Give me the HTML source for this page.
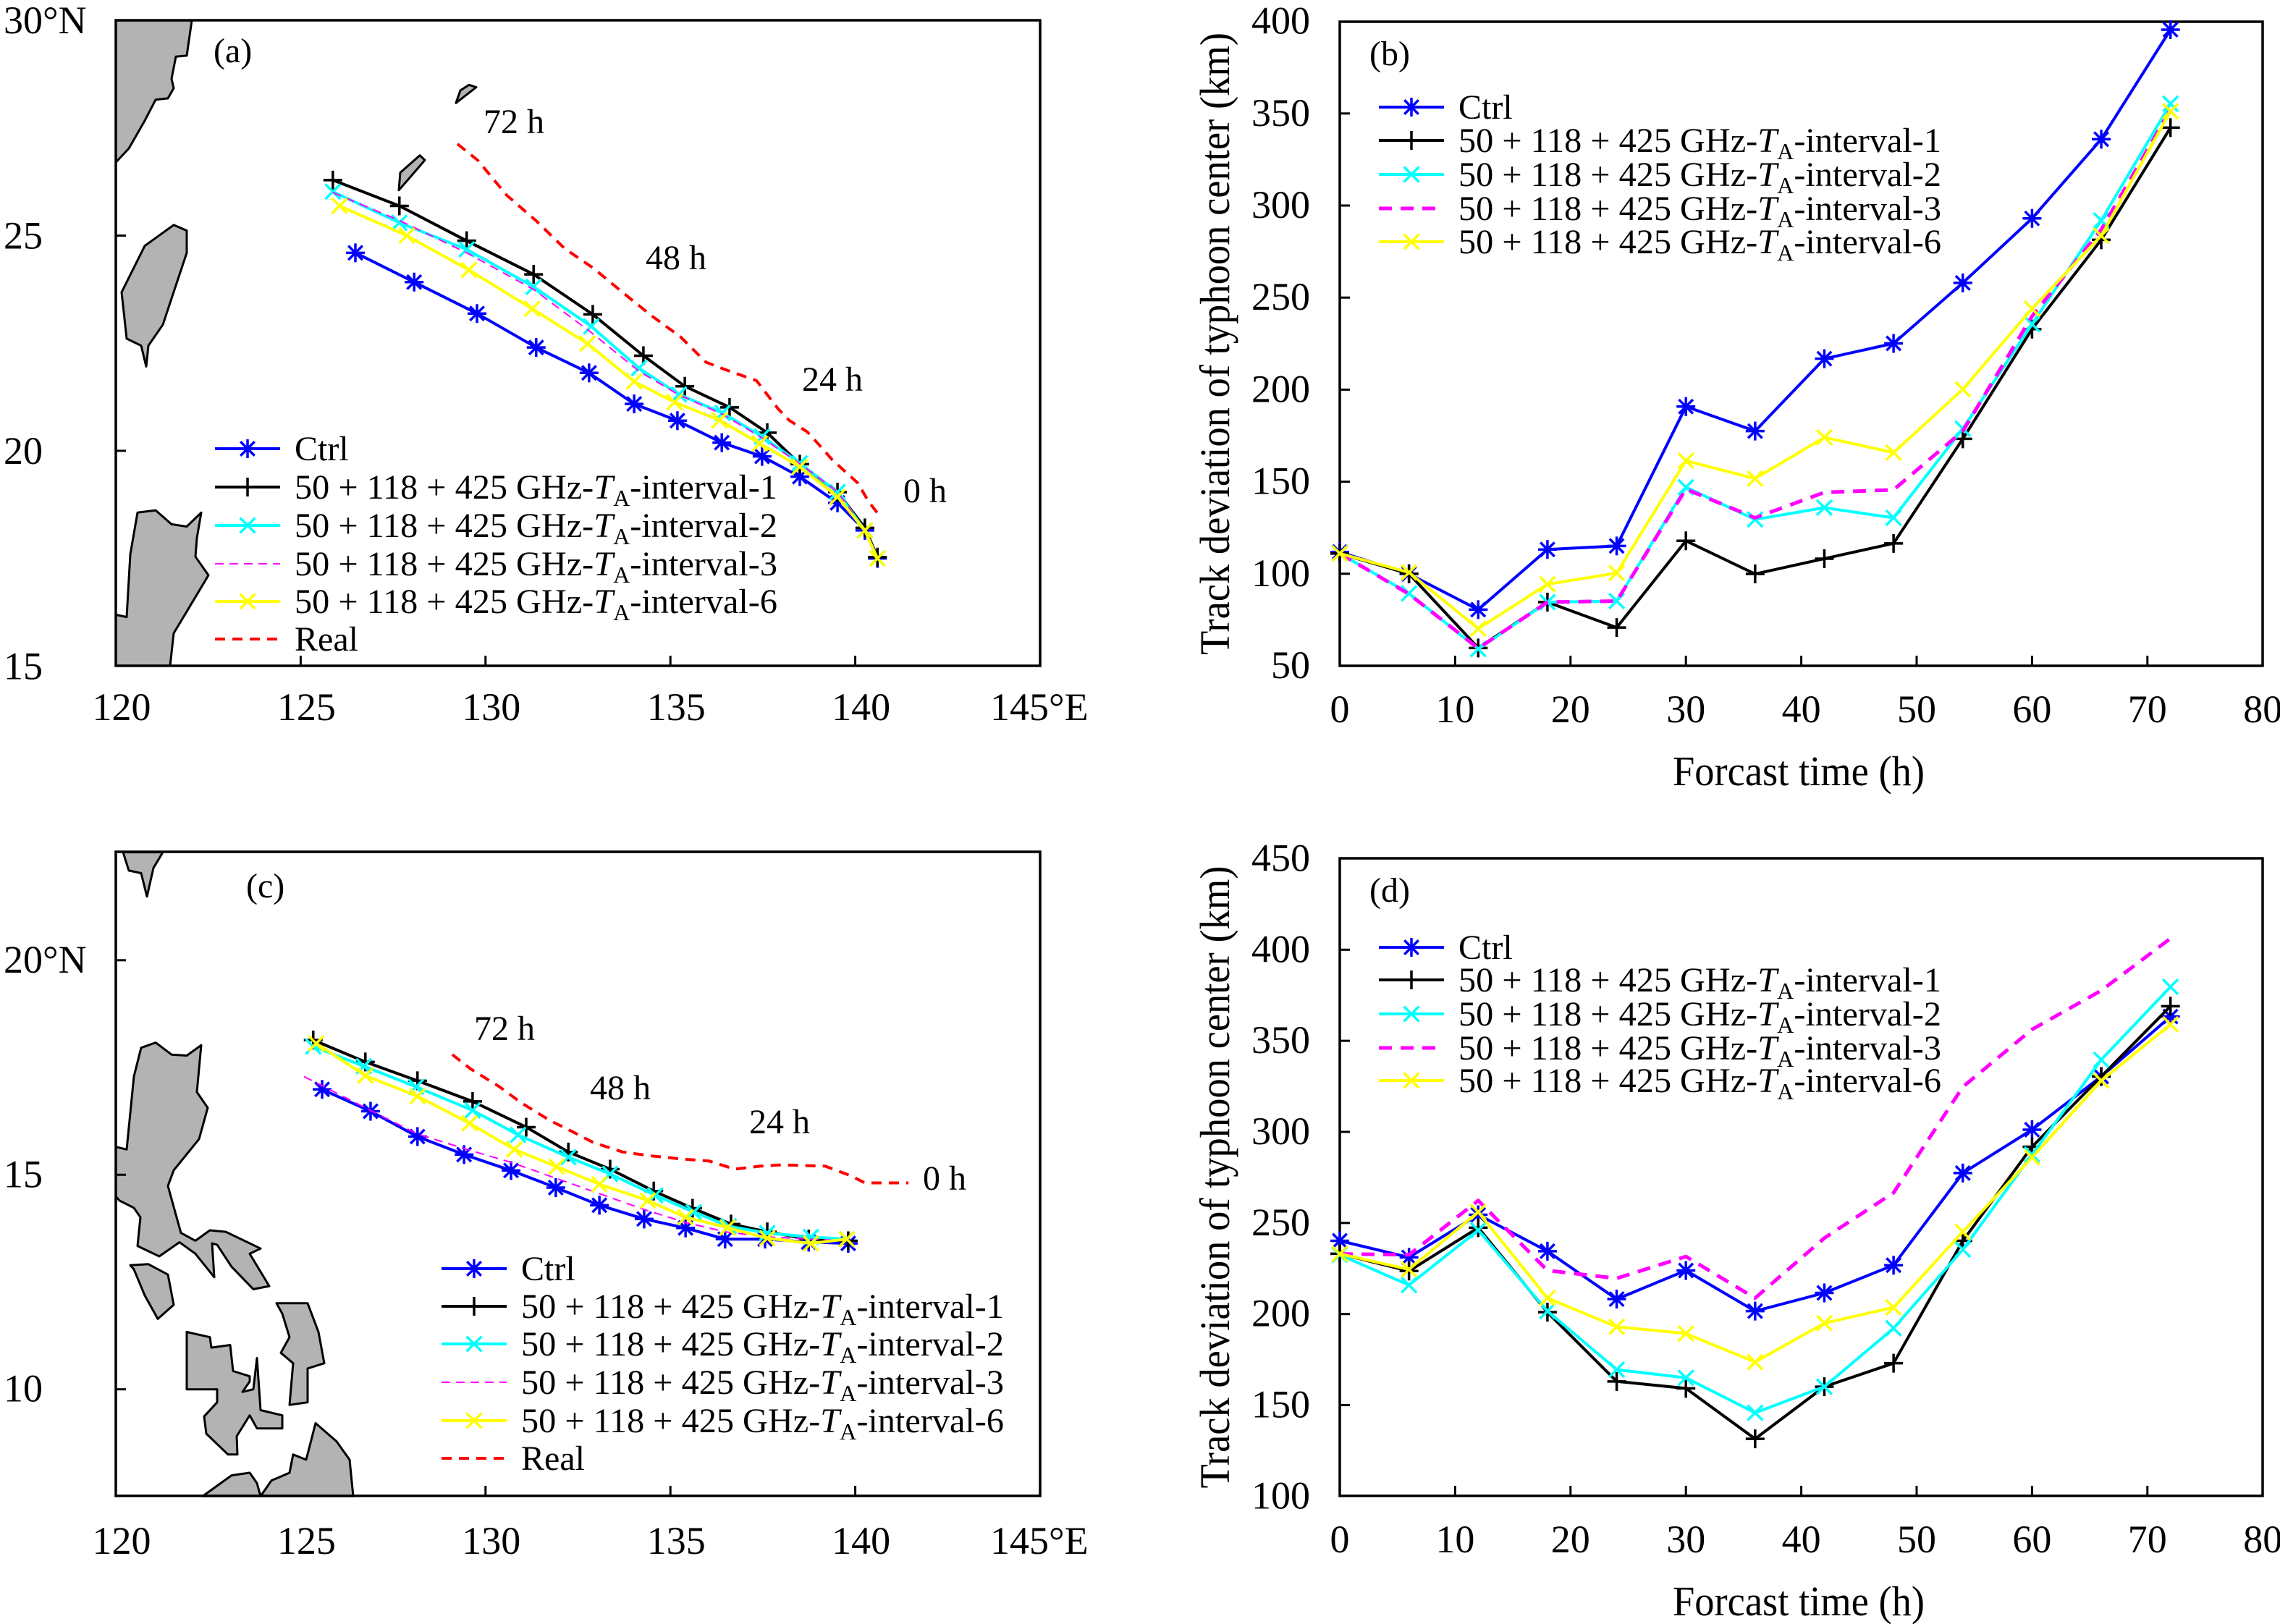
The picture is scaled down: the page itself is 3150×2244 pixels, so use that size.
<!DOCTYPE html>
<html><head><meta charset="utf-8"><title>Typhoon track figure</title>
<style>
html,body{margin:0;padding:0;background:#fff;}
svg{display:block;}
svg text{font-family:"Liberation Serif","DejaVu Serif",serif;fill:#000;}
</style></head>
<body>
<svg id="fig" xmlns="http://www.w3.org/2000/svg" width="3150" height="2244" viewBox="0 0 3150 2244" font-family="Liberation Serif, DejaVu Serif, serif">
<rect x="0" y="0" width="3150" height="2244" fill="#fff"/>
</svg>
<script>
// ---------- Data: panel (a) map tracks (lon, lat) ----------
const aCtrlLon=[126.48,128.07,129.77,131.37,132.80,134.02,135.19,136.39,137.48,138.50,139.52,140.26,140.60];
const aCtrlLat=[24.60,23.92,23.19,22.40,21.81,21.09,20.70,20.19,19.87,19.40,18.79,18.15,17.50];
const aI1Lon=[125.87,127.67,129.49,131.30,132.90,134.27,135.39,136.60,137.62,138.50,139.52,140.26,140.60];
const aI1Lat=[26.29,25.69,24.88,24.10,23.17,22.21,21.50,21.01,20.42,19.69,19.04,18.21,17.53];
const aI2Lon=[125.87,127.67,129.49,131.30,132.86,134.15,135.23,136.41,137.48,138.50,139.52,140.26,140.60];
const aI2Lat=[26.02,25.30,24.68,23.81,22.89,21.92,21.31,20.88,20.33,19.71,19.04,18.15,17.50];
const aI3Lon=[125.87,127.67,129.49,131.30,132.86,134.15,135.23,136.41,137.48,138.50,139.52,140.26,140.60];
const aI3Lat=[26.00,25.35,24.60,23.75,22.75,21.85,21.30,20.85,20.30,19.70,19.05,18.15,17.50];
const aI6Lon=[126.05,127.87,129.55,131.26,132.76,134.02,135.11,136.33,137.42,138.50,139.52,140.26,140.60];
const aI6Lat=[25.69,25.00,24.20,23.30,22.49,21.61,21.13,20.71,20.17,19.63,18.93,18.15,17.50];
const aRealLon=[129.24,129.79,130.57,131.36,132.14,132.92,133.71,134.49,135.27,135.96,136.44,137.33,137.91,138.21,138.70,138.99,139.38,140.07,140.36,140.65];
const aRealLat=[27.13,26.75,25.94,25.35,24.70,24.24,23.68,23.14,22.65,22.06,21.90,21.63,20.98,20.71,20.44,20.17,19.79,19.25,18.82,18.50];
// ---------- Data: panel (c) map tracks ----------
const cCtrlLon=[125.58,126.89,128.16,129.42,130.69,131.90,133.08,134.29,135.41,136.48,137.56,138.74,139.81];
const cCtrlLat=[16.99,16.48,15.89,15.47,15.10,14.70,14.29,13.97,13.76,13.50,13.50,13.43,13.40];
const cI1Lon=[125.34,126.75,128.16,129.65,131.10,132.24,133.37,134.55,135.60,136.64,137.62,138.74,139.81];
const cI1Lat=[18.14,17.63,17.19,16.71,16.11,15.53,15.13,14.62,14.22,13.85,13.67,13.50,13.46];
const cI2Lon=[125.34,126.71,128.12,129.65,130.88,132.24,133.37,134.59,135.63,136.58,137.62,138.80,139.77];
const cI2Lat=[17.99,17.53,17.05,16.50,15.93,15.41,15.02,14.52,14.13,13.80,13.64,13.55,13.50];
const cI3Lon=[125.09,126.89,128.16,129.42,130.69,131.90,133.08,134.29,135.41,136.48,137.62,138.80,139.77];
const cI3Lat=[17.29,16.50,15.95,15.61,15.29,14.92,14.56,14.19,13.89,13.67,13.55,13.50,13.46];
const cI6Lon=[125.42,126.75,128.16,129.57,130.78,131.92,133.08,134.39,135.41,136.54,137.62,138.80,139.77];
const cI6Lat=[18.06,17.31,16.83,16.20,15.59,15.19,14.78,14.40,14.01,13.77,13.52,13.40,13.50];
const cRealLon=[129.10,129.59,130.38,130.96,131.75,132.34,132.92,133.71,134.49,135.27,136.05,136.74,137.42,138.01,139.19,139.87,140.26,141.44];
const cRealLat=[17.80,17.47,17.05,16.68,16.26,16.01,15.75,15.53,15.44,15.37,15.32,15.13,15.20,15.23,15.20,14.98,14.81,14.81];
// ---------- Data: panels (b),(d) deviation ----------
const hours=[0,6,12,18,24,30,36,42,48,54,60,66,72];
const bCtrl=[111.8,99.9,80.5,113.2,115.1,190.8,177.5,216.8,225.1,258,293,336,395.5];
const bI1=[111,100,59.7,84.6,70.8,117.9,99.9,108.2,116.5,173.3,232.9,281.4,342.3];
const bI2=[111,89.3,59.1,84.6,85.2,147,129.5,135.9,130.4,178.8,235.6,291.9,355.3];
const bI3=[111,89,59.5,84.6,85.2,146,130.4,144.2,145.6,177.5,239.8,286.9,352];
const bI6=[111,100.7,70.2,94.3,100.4,161.4,151.7,174.1,165.8,200.2,244,283.6,351.2];
const dCtrl=[240.2,231.1,254.5,234.5,208.2,223.9,201.6,211.6,226.8,277.4,301.2,330.4,363.3];
const dI1=[233.1,223.6,247.4,201.0,163.0,159.2,131.5,160.1,173.0,240.2,291.8,330.4,369.0];
const dI2=[232.5,215.9,246.0,201.6,169.5,165.0,145.8,160.1,192.2,235.4,287.5,339.6,379.6];
const dI3=[233,232.5,262.3,223.9,219.6,231.6,208.8,241.7,266.6,324.7,356.2,377.6,406.2];
const dI6=[233,224.5,256.0,208.8,193.0,189.3,173.6,195.0,203.6,245.1,286.0,328.1,359.0];
// ---------- Tick labels ----------
const lonTicks=[120,125,130,135,140,145];
const aLatTicks=[30,25,20,15];
const cLatTicks=[20,15,10];
const timeTicks=[0,10,20,30,40,50,60,70,80];
const bValTicks=[50,100,150,200,250,300,350,400];
const dValTicks=[100,150,200,250,300,350,400,450];

const NS="http://www.w3.org/2000/svg";
const FONT='"Liberation Serif","DejaVu Serif",serif';
const svg=document.getElementById('fig');
function mk(tag,attrs,parent){const e=document.createElementNS(NS,tag);for(const k in attrs)e.setAttribute(k,attrs[k]);(parent||svg).appendChild(e);return e;}

const aX=lon=>160+(lon-120)*51.08;
const aY=lat=>28.2+(30-lat)*59.47;
const cX=aX;
const cY=lat=>1326.8+(20-lat)*59.29;
const bX=t=>1851+t*15.94;
const bY=v=>920-(v-50)*2.544;
const dX=bX;
const dY=v=>2067.4-(v-100)*2.517;

const COL={ctrl:'#0000ff',i1:'#000000',i2:'#00ffff',i3:'#ff00ff',i6:'#ffff00',real:'#ff0000'};

function marker(g,type,x,y,color){
  const r=13;let d='';
  if(type==='star'){d=`M${x-r} ${y}L${x+r} ${y}M${x} ${y-r}L${x} ${y+r}M${x-r*0.75} ${y-r*0.75}L${x+r*0.75} ${y+r*0.75}M${x-r*0.75} ${y+r*0.75}L${x+r*0.75} ${y-r*0.75}`;}
  else if(type==='plus'){d=`M${x-r} ${y}L${x+r} ${y}M${x} ${y-r}L${x} ${y+r}`;}
  else if(type==='x'){d=`M${x-r*0.8} ${y-r*0.8}L${x+r*0.8} ${y+r*0.8}M${x-r*0.8} ${y+r*0.8}L${x+r*0.8} ${y-r*0.8}`;}
  const p=mk('path',{d:d,stroke:color,'stroke-width':3.5,fill:'none'},g);
  
  
}
function series(name,xs,ys,fx,fy,color,type,width,dash){
  const g=mk('g',{});
  
  
  const pts=xs.map((v,i)=>fx(v).toFixed(1)+','+fy(ys[i]).toFixed(1)).join(' ');
  const attrs={points:pts,fill:'none',stroke:color,'stroke-width':width,'stroke-linejoin':'round'};
  if(dash)attrs['stroke-dasharray']=dash;
  const pl=mk('polyline',attrs,g);
  
  
  if(type)xs.forEach((v,i)=>marker(g,type,fx(v),fy(ys[i]),color));
}
function txt(str,x,y,size,anchor,name,parent){
  const t=mk('text',{x:x,y:y,'font-size':size,'text-anchor':anchor||'start','font-family':FONT},parent);
  t.textContent=str;
  
  
  return t;
}
function legend(x0,rows,items,name){
  const g=mk('g',{});
  
  
  items.forEach((it,i)=>{
    const y=rows[i];
    const a={x1:x0,y1:y,x2:x0+90,y2:y,stroke:it.c,'stroke-width':it.w};
    if(it.dash)a['stroke-dasharray']=it.dash;
    const ln=mk('line',a,g);
    
    
    if(it.m)marker(g,it.m,x0+45,y,it.c);
    const t=mk('text',{x:x0+110,y:y+16,'font-size':48,'font-family':FONT},g);
    
    
    if(it.sub){
      t.setAttribute('textLength','667');
      t.setAttribute('lengthAdjust','spacingAndGlyphs');
      t.appendChild(document.createTextNode('50 + 118 + 425 GHz-'));
      const s1=mk('tspan',{'font-style':'italic'},t);s1.textContent='T';
      const s2=mk('tspan',{dy:10,'font-size':32},t);s2.textContent='A';
      const s3=mk('tspan',{dy:-10},t);s3.textContent='-interval-'+it.sub;
    }else{t.textContent=it.label;}
  });
}
function box(x1,y1,x2,y2,name){
  const r=mk('rect',{x:x1,y:y1,width:x2-x1,height:y2-y1,fill:'none',stroke:'#000','stroke-width':3.5});
  
  
}
function land(pts,sx,oy,ky,name){
  const p=mk('polygon',{points:pts.map(q=>(q[0]).toFixed(1)+','+(oy+q[1]/ky).toFixed(1)).join(' '),fill:'#b3b3b3',stroke:'#000','stroke-width':3,'stroke-linejoin':'round'});
  
  
}

// ================= Panel (a) =================
land([[160,44],[265,44],[258,120],[243,122],[237,170],[240,190],[232,212],[215,215],[200,260],[178,320],[160,350]],1,0,1.56,'land-japan');
land([[240,485],[258,497],[258,545],[242,620],[225,700],[205,745],[202,790],[195,745],[175,730],[168,630],[200,530]],1,0,1.56,'land-taiwan');
land([[160,1325],[175,1330],[180,1195],[190,1105],[215,1100],[237,1130],[258,1135],[278,1105],[272,1160],[270,1200],[288,1240],[265,1300],[240,1365],[235,1435],[160,1435]],1,0,1.56,'land-luzon');
land([[630,222],[636,195],[648,183],[658,188]],1,0,1.56,'land-island-1');
land([[551,410],[553,372],[580,335],[587,345],[565,385]],1,0,1.56,'land-island-2');
box(160,28,1437,920,'panel-a-map-frame');
series('a-real',aRealLon,aRealLat,aX,aY,COL.real,null,4,'14 10');
series('a-ctrl',aCtrlLon,aCtrlLat,aX,aY,COL.ctrl,'star',4);
series('a-interval-1',aI1Lon,aI1Lat,aX,aY,COL.i1,'plus',4);
series('a-interval-2',aI2Lon,aI2Lat,aX,aY,COL.i2,'x',4);
series('a-interval-3',aI3Lon,aI3Lat,aX,aY,COL.i3,null,2,'12 8');
series('a-interval-6',aI6Lon,aI6Lat,aX,aY,COL.i6,'x',4);
lonTicks.forEach((v,i)=>{
  if(i>0&&i<lonTicks.length-1){mk('line',{x1:aX(v),y1:920,x2:aX(v),y2:906,stroke:'#000','stroke-width':3});mk('line',{x1:cX(v),y1:2067,x2:cX(v),y2:2053,stroke:'#000','stroke-width':3});}
  if(i<lonTicks.length-1){txt(String(v),aX(v)+8,995,54,'middle','x-tick-label-a');txt(String(v),cX(v)+8,2147,54,'middle','x-tick-label-c');}
  else{txt(v+'°E',1368,995,54,'start','x-tick-label-a');txt(v+'°E',1368,2147,54,'start','x-tick-label-c');}
});
aLatTicks.forEach((v,i)=>{
  if(i>0&&i<aLatTicks.length-1)mk('line',{x1:160,y1:aY(v),x2:174,y2:aY(v),stroke:'#000','stroke-width':3});
  txt(i===0?v+'°N':String(v),5,aY(v)+18,54,'start','y-tick-label-a');
});
txt('(a)',295,86,48,'start','panel-label-a');
txt('72 h',668,184,48,'start','time-label-72h-a');
txt('48 h',892,372,48,'start','time-label-48h-a');
txt('24 h',1108,540,48,'start','time-label-24h-a');
txt('0 h',1248,694,48,'start','time-label-0h-a');
legend(297,[620,673,726,779,831,883],[
 {c:COL.ctrl,w:4,m:'star',label:'Ctrl'},
 {c:COL.i1,w:4,m:'plus',sub:1},
 {c:COL.i2,w:4,m:'x',sub:2},
 {c:COL.i3,w:2,dash:'12 8',sub:3},
 {c:COL.i6,w:4,m:'x',sub:6},
 {c:COL.real,w:4,dash:'14 10',label:'Real'}],'legend-a');

// ================= Panel (c) =================
const ky=1.388, oy=1120;
land([[170,80],[225,80],[212,110],[203,165],[195,120],[178,115]],1,oy,ky,'land-taiwan-tip');
land([[160,645],[175,650],[185,510],[195,455],[215,445],[237,468],[258,470],[278,450],[272,540],[287,570],[275,630],[240,690],[232,720],[250,810],[270,825],[290,805],[312,808],[360,840],[345,850],[372,912],[350,918],[320,875],[300,833],[293,830],[296,895],[270,850],[248,828],[220,855],[190,835],[194,780],[185,762],[165,748],[160,740]],1,oy,ky,'land-luzon');
land([[180,872],[205,870],[232,890],[240,948],[218,975],[200,930],[185,880]],1,oy,ky,'land-mindoro');
land([[258,1000],[290,1010],[292,1030],[318,1025],[322,1075],[345,1085],[345,1095],[335,1115],[350,1110],[355,1050],[360,1150],[390,1160],[390,1185],[355,1185],[345,1160],[327,1200],[328,1235],[315,1235],[285,1195],[282,1162],[300,1135],[300,1110],[258,1110]],1,oy,ky,'land-visayas');
land([[382,945],[425,945],[440,1000],[448,1060],[425,1070],[425,1135],[400,1140],[405,1060],[388,1040],[400,1010],[390,965]],1,oy,ky,'land-samar');
land([[280,1315],[320,1275],[345,1270],[355,1290],[360,1315],[375,1285],[400,1270],[405,1235],[423,1245],[436,1175],[465,1210],[483,1245],[488,1315]],1,oy,ky,'land-mindanao');
box(160,1177,1437,2067,'panel-c-map-frame');
series('c-real',cRealLon,cRealLat,cX,cY,COL.real,null,4,'14 10');
series('c-ctrl',cCtrlLon,cCtrlLat,cX,cY,COL.ctrl,'star',4);
series('c-interval-1',cI1Lon,cI1Lat,cX,cY,COL.i1,'plus',4);
series('c-interval-2',cI2Lon,cI2Lat,cX,cY,COL.i2,'x',4);
series('c-interval-3',cI3Lon,cI3Lat,cX,cY,COL.i3,null,2,'12 8');
series('c-interval-6',cI6Lon,cI6Lat,cX,cY,COL.i6,'x',4);
cLatTicks.forEach((v,i)=>{
  mk('line',{x1:160,y1:cY(v),x2:174,y2:cY(v),stroke:'#000','stroke-width':3});
  txt(i===0?v+'°N':String(v),5,cY(v)+17,54,'start','y-tick-label-c');
});
txt('(c)',340,1240,48,'start','panel-label-c');
txt('72 h',655,1437,48,'start','time-label-72h-c');
txt('48 h',815,1519,48,'start','time-label-48h-c');
txt('24 h',1035,1566,48,'start','time-label-24h-c');
txt('0 h',1275,1644,48,'start','time-label-0h-c');
legend(610,[1753,1805,1857,1910,1963,2015],[
 {c:COL.ctrl,w:4,m:'star',label:'Ctrl'},
 {c:COL.i1,w:4,m:'plus',sub:1},
 {c:COL.i2,w:4,m:'x',sub:2},
 {c:COL.i3,w:2,dash:'12 8',sub:3},
 {c:COL.i6,w:4,m:'x',sub:6},
 {c:COL.real,w:4,dash:'14 10',label:'Real'}],'legend-c');

// ================= Panels (b),(d) =================
function chart(tag,fx,fy,y0,y1,vt,data,legRows){
  box(1851,y0,3126,y1,'panel-'+tag+'-plot-frame');
  timeTicks.forEach(t=>{
    if(t>0&&t<80)mk('line',{x1:fx(t),y1:y1,x2:fx(t),y2:y1-14,stroke:'#000','stroke-width':3});
    txt(String(t),fx(t),y1+78,54,'middle','x-tick-label-'+tag);
  });
  vt.forEach((v,i)=>{
    if(i>0&&i<vt.length-1)mk('line',{x1:1851,y1:fy(v),x2:1865,y2:fy(v),stroke:'#000','stroke-width':3});
    txt(String(v),1810,fy(v)+17,54,'end','y-tick-label-'+tag);
  });
  series(tag+'-ctrl',hours,data[0],fx,fy,COL.ctrl,'star',4);
  series(tag+'-interval-1',hours,data[1],fx,fy,COL.i1,'plus',4);
  series(tag+'-interval-2',hours,data[2],fx,fy,COL.i2,'x',4);
  series(tag+'-interval-3',hours,data[3],fx,fy,COL.i3,null,5,'18 12');
  series(tag+'-interval-6',hours,data[4],fx,fy,COL.i6,'x',4);
  const yt=txt('Track deviation of typhoon center (km)',0,0,58,'middle','y-axis-title-'+tag);
  const cy=(y0+y1)/2;
  yt.setAttribute('transform','translate(1698,'+cy+') rotate(-90)');
  yt.setAttribute('textLength','860');
  yt.setAttribute('lengthAdjust','spacingAndGlyphs');
  const xt=txt('Forcast time (h)',2485,y1+165,58,'middle','x-axis-title-'+tag);
  xt.setAttribute('textLength','348');
  xt.setAttribute('lengthAdjust','spacingAndGlyphs');
  txt('('+tag+')',1892,y0+60,48,'start','panel-label-'+tag);
  legend(1905,legRows,[
   {c:COL.ctrl,w:4,m:'star',label:'Ctrl'},
   {c:COL.i1,w:4,m:'plus',sub:1},
   {c:COL.i2,w:4,m:'x',sub:2},
   {c:COL.i3,w:5,dash:'18 12',sub:3},
   {c:COL.i6,w:4,m:'x',sub:6}],'legend-'+tag);
}
chart('b',bX,bY,30,920,bValTicks,[bCtrl,bI1,bI2,bI3,bI6],[148,194,241,288,334]);
chart('d',dX,dY,1186,2067,dValTicks,[dCtrl,dI1,dI2,dI3,dI6],[1309,1354,1401,1448,1493]);
</script>
</body></html>
